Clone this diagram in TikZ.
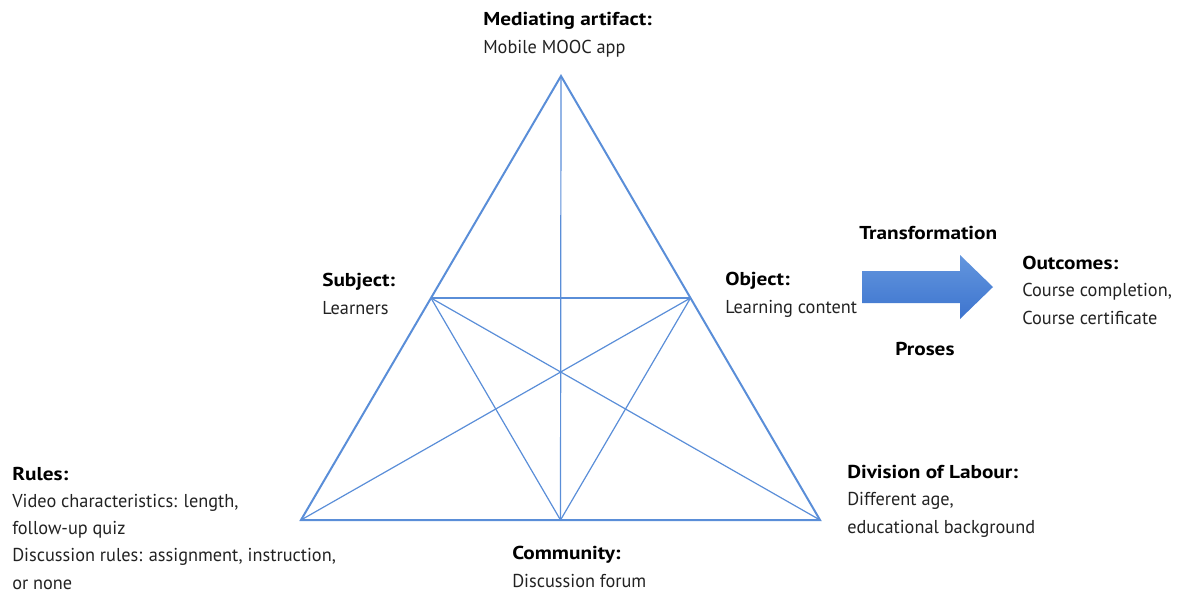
\documentclass[tikz,border=0pt]{standalone}
\usepackage{fontspec}
\setmainfont{PT Sans}[FakeStretch=0.98,BoldFeatures={FakeStretch=1.14}]
\usetikzlibrary{calc}
\definecolor{tri}{HTML}{5A8ED8}
\definecolor{txt}{HTML}{222222}
\definecolor{arrtop}{HTML}{6396DE}
\definecolor{arrbot}{HTML}{3D74CE}
\begin{document}
\begin{tikzpicture}[x=0.75pt,y=-0.75pt,
  lbl/.style={inner sep=0pt,anchor=base west,align=left,text=txt,
    font=\fontsize{14pt}{20.4pt}\selectfont},
  outer/.style={draw=tri,line width=1.5pt,line join=miter},
  inner/.style={draw=tri,line width=0.9pt}]
\useasboundingbox (0,0) rectangle (1178,597);
% vertices
\coordinate (A) at (561,76);
\coordinate (L) at (301,520);
\coordinate (R) at (820,520);
\coordinate (S) at ($(A)!0.5!(L)$);
\coordinate (O) at ($(A)!0.5!(R)$);
\coordinate (C) at ($(L)!0.5!(R)$);
% inner lines
\draw[inner] (A) -- (C);
\draw[inner] (S) -- (O);
\draw[inner] (S) -- (R);
\draw[inner] (S) -- (C);
\draw[inner] (O) -- (L);
\draw[inner] (O) -- (C);
\draw[outer] (A) -- (L) -- (R) -- cycle;
% arrow
\shade[top color=arrtop,bottom color=arrbot]
  (862,271) -- (960,271) -- (960,255) -- (993,287) -- (960,319) -- (960,303) -- (862,303) -- cycle;
% labels (anchor = baseline of last line)
\node[lbl] (med) at (483,53) {\textbf{\color{black}Mediating artifact:}\\Mobile MOOC app};
\node[lbl] (sub) at (322,314) {\textbf{\color{black}Subject:}\\Learners};
\node[lbl] (obj) at (725,313) {\textbf{\color{black}Object:}\\Learning content};
\node[lbl] (trans) at (859,239) {\textbf{\color{black}Transformation}};
\node[lbl] (proses) at (895,355) {\textbf{\color{black}Proses}};
\node[lbl] (out) at (1022,324) {\textbf{\color{black}Outcomes:}\\Course completion,\\Course certificate};
\node[lbl] (rules) at (12,589) {\textbf{\color{black}Rules:}\\Video characteristics: length,\\follow-up quiz\\Discussion rules: assignment, instruction,\\or none};
\node[lbl] (div) at (847,533) {\textbf{\color{black}Division of Labour:}\\Different age,\\educational background};
\node[lbl] (com) at (512,587) {\textbf{\color{black}Community:}\\Discussion forum};
\end{tikzpicture}
\end{document}
